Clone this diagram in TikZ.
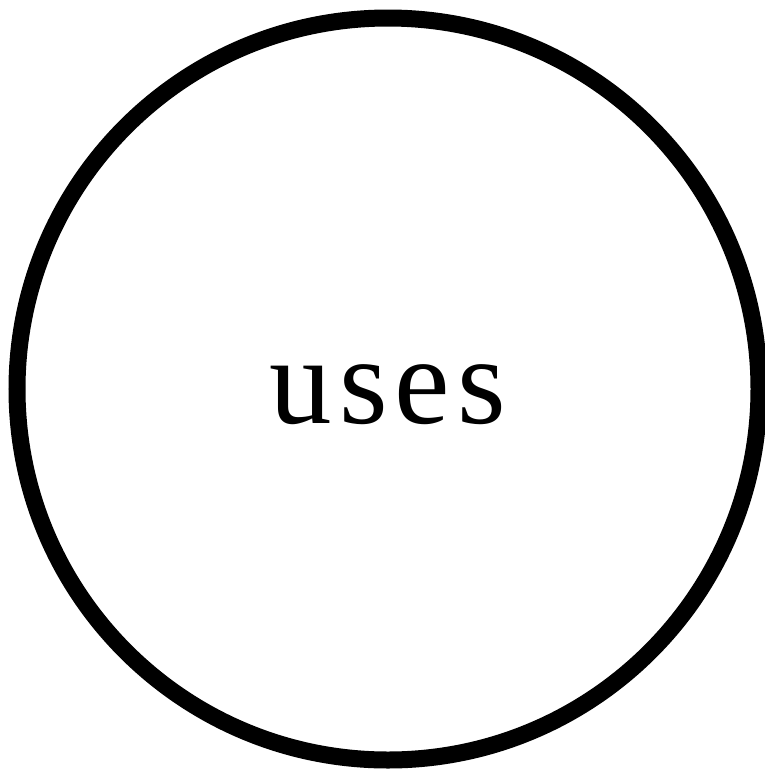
\documentclass[tikz,border=0pt]{standalone}
\usepackage{fontspec}
\setmainfont{Liberation Serif}
\begin{document}
\begin{tikzpicture}[x=1pt,y=-1pt,
  ring/.style={circle,draw=black,line width=17pt,minimum size=742pt,inner sep=0pt},
  word/.style={anchor=base,inner sep=0pt,font=\fontsize{125}{125}\selectfont}]
\useasboundingbox (0,0) rectangle (764,769);
\node[ring] (c) at (388,389) {};
\node[word] (t) at (388,423) {u\kern7pt s\kern7pt e\kern7pt s};
\end{tikzpicture}
\end{document}
